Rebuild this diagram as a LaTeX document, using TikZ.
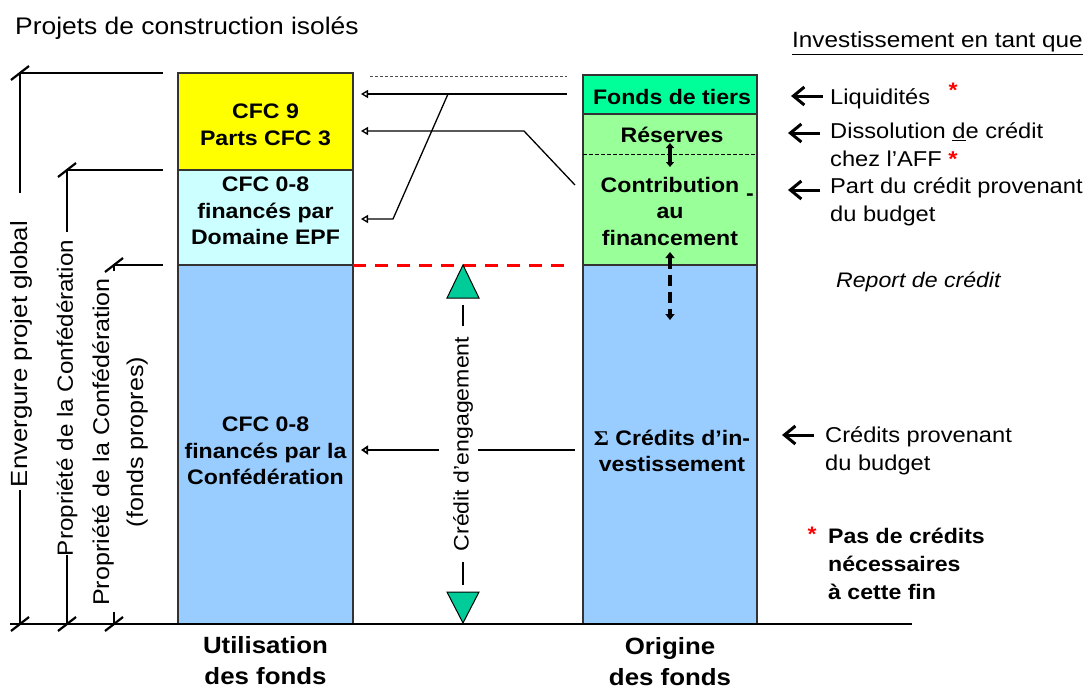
\documentclass[tikz,border=0pt]{standalone}
\usepackage{fontspec}
\setmainfont{Liberation Sans}[FakeStretch=1.1]
\newfontfamily\sigmafont{Liberation Serif}[FakeStretch=1.1]
\usetikzlibrary{arrows.meta}
\definecolor{cyel}{RGB}{255,255,0}
\definecolor{ccyan}{RGB}{204,255,255}
\definecolor{cblue}{RGB}{153,204,255}
\definecolor{ctiers}{RGB}{0,255,153}
\definecolor{cgreen}{RGB}{153,255,153}
\definecolor{ctri}{RGB}{0,204,153}
\definecolor{cred}{RGB}{255,0,0}
\begin{document}
\begin{tikzpicture}[x=1pt,y=-1pt,
  colbox/.style={draw=black!80, line width=1.3pt, inner sep=0pt, minimum width=175pt},
  boxtext/.style={inner sep=0pt, align=center, font=\fontsize{21}{26.5}\selectfont\bfseries},
  plain/.style={inner sep=0pt, align=left, anchor=west, font=\fontsize{21.5}{28}\selectfont},
  boldlab/.style={inner sep=0pt, align=left, anchor=west, font=\fontsize{21}{28}\selectfont\bfseries},
  bottomlab/.style={inner sep=0pt, align=center, font=\fontsize{23.5}{31}\selectfont\bfseries},
  dimline/.style={line width=2.2pt},
  tick/.style={line width=2.2pt},
  thinarrow/.style={line width=1.3pt, -{Triangle[open,length=7pt,width=8pt]}},
  bigarrow/.style={line width=3pt, -{Straight Barb[length=11pt,width=18pt]}},
  rotlab/.style={inner sep=0pt, rotate=90, align=center},
  redstar/.style={inner sep=0pt, text=cred, font=\fontsize{21}{21}\selectfont\bfseries}
]
\useasboundingbox (0,0) rectangle (1089,691);

% title
\node[plain, font=\fontsize{24}{28}\selectfont] (title) at (15,28) {Projets de construction isolés};

% left column
\node[colbox, fill=cyel, minimum height=97pt] (yel) at (265.5,121.5) {};
\node[colbox, fill=ccyan, minimum height=95pt] (cyan) at (265.5,217.5) {};
\node[colbox, fill=cblue, minimum height=359pt] (blueL) at (265.5,444.5) {};
\node[boxtext] (tyel) at (265.5,125) {CFC 9\\Parts CFC 3};
\node[boxtext] (tcyan) at (265.5,211) {CFC 0-8\\financés par\\Domaine EPF};
\node[boxtext] (tblueL) at (265.5,451) {CFC 0-8\\financés par la\\Confédération};

% right column
\node[colbox, fill=ctiers, minimum width=174pt, minimum height=39pt] (tiers) at (670,94.5) {};
\node[colbox, fill=cgreen, minimum width=174pt, minimum height=151pt] (resv) at (670,189.5) {};
\node[colbox, fill=cblue, minimum width=174pt, minimum height=359pt] (blueR) at (670,444.5) {};
\coordinate (dl) at (583,154);
\coordinate (dr) at (757,154);
\draw[line width=1pt, dash pattern=on 4pt off 2pt] (dl) -- (dr);
\node[boxtext] (ttiers) at (672,97) {Fonds de tiers};
\node[boxtext] (tresv) at (672,135) {Réserves};
\node[boxtext] (tcontr) at (670,211) {Contribution\\au\\financement};
\node[boxtext] (dash) at (750,197) {-};
\node[boxtext] (tblueR) at (672,451) {{\sigmafont\bfseries Σ} Crédits d’in-\\vestissement};

% double arrows inside right column
\coordinate (da1) at (670,143);
\coordinate (da2) at (670,167);
\draw[line width=3.2pt, {Triangle[length=5pt,width=8pt]}-{Triangle[length=5pt,width=8pt]}] (da1) -- (da2);
\coordinate (db1) at (670,252);
\coordinate (db2) at (670,320);
\draw[line width=3.4pt, dash pattern=on 11pt off 6pt, {Triangle[length=6pt,width=9pt]}-{Triangle[length=6pt,width=9pt]}] (db1) -- (db2);

% dashed lines between columns
\coordinate (g1) at (370,76);
\coordinate (g2) at (567,76);
\draw[line width=0.8pt, black!70, dash pattern=on 3pt off 2pt] (g1) -- (g2);
\coordinate (r1) at (353,265);
\coordinate (r2) at (567,265);
\draw[line width=3pt, cred, dash pattern=on 13pt off 9pt] (r1) -- (r2);

% connectors
\coordinate (a1s) at (567,94);
\coordinate (a1e) at (361,94);
\draw[thinarrow] (a1s) -- (a1e);
\coordinate (a2s) at (575,185);
\coordinate (a2k) at (524,131);
\coordinate (a2e) at (361,131);
\draw[thinarrow] (a2s) -- (a2k) -- (a2e);
\coordinate (a3s) at (448,94);
\coordinate (a3k) at (393,219);
\coordinate (a3e) at (361,219);
\draw[thinarrow] (a3s) -- (a3k) -- (a3e);

% credit d'engagement
\coordinate (tu) at (463,265);
\coordinate (td) at (463,623);
\filldraw[fill=ctri, draw=black, line width=1pt] (tu) -- (479,298) -- (447,298) -- cycle;
\filldraw[fill=ctri, draw=black, line width=1pt] (td) -- (479,592) -- (447,592) -- cycle;
\node[rotlab, font=\fontsize{21}{28}\selectfont] (ce) at (463,444) {Crédit d’engagement};
\coordinate (ce1) at (463,305);
\coordinate (ce2) at (463,326);
\coordinate (ce3) at (463,562);
\coordinate (ce4) at (463,585);
\draw[line width=1.6pt] (ce1) -- (ce2);
\draw[line width=1.6pt] (ce3) -- (ce4);
\coordinate (m1) at (575,450);
\coordinate (m2) at (478,450);
\coordinate (m3) at (439,450);
\coordinate (m4) at (361,450);
\draw[line width=2.6pt] (m1) -- (m2);
\draw[line width=2.6pt, -{Triangle[open,length=7pt,width=9pt]}] (m3) -- (m4);

% baseline
\coordinate (b0) at (10,624);
\coordinate (b1) at (912,624);
\draw[line width=2.5pt] (b0) -- (b1);

% left dimensions
\coordinate (v1t) at (20,73);
\coordinate (v1b) at (20,624);
\coordinate (h1) at (163,73);
\coordinate (v2t) at (67,170);
\coordinate (v2b) at (67,624);
\coordinate (h2) at (163,170);
\coordinate (v3t) at (114,265);
\coordinate (v3b) at (114,624);
\coordinate (h3) at (163,265);
\draw[dimline] (h1) -- (v1t) -- (20,193);
\draw[dimline] (20,490) -- (v1b);
\draw[dimline] (h2) -- (v2t) -- (67,232);
\draw[dimline] (67,555) -- (v2b);
\draw[dimline] (h3) -- (v3t) -- (114,271);
\draw[dimline] (114,612) -- (v3b);
\foreach \p in {v1t,v1b,v2t,v2b,v3t,v3b}{
  \draw[tick] ([xshift=-9pt,yshift=-7pt]\p) -- ([xshift=9pt,yshift=7pt]\p);
}
\node[rotlab, font=\fontsize{23.4}{30}\selectfont] (env) at (21,354) {Envergure projet global};
\node[rotlab, font=\fontsize{22}{30}\selectfont] (prop1) at (67,398) {Propriété de la Confédération};
\node[rotlab, font=\fontsize{22.8}{34}\selectfont] (prop2) at (120,442) {Propriété de la Confédération\\(fonds propres)};

% bottom labels
\node[bottomlab] (util) at (265.5,661) {Utilisation\\des fonds};
\node[bottomlab] (orig) at (670,662) {Origine\\des fonds};

% right labels
\node[plain, font=\fontsize{22.1}{28}\selectfont] (inv) at (792,43) {\underline{Investissement en tant que}};
\node[plain] (liq) at (830,99) {Liquidités};
\node[redstar] (s1) at (953,90) {*};
\node[plain] (diss) at (830,145) {Dissolution \underline{d}e crédit\\chez l’AFF {\color{cred}\bfseries *}};
\node[plain] (part) at (830,202) {Part du crédit provenant\\du budget};
\node[plain, font=\fontsize{21}{28}\selectfont\itshape] (rep) at (836,282) {Report de crédit};
\node[plain] (cred) at (825,451) {Crédits provenant\\du budget};
\node[boldlab] (pas) at (828,564) {Pas de crédits\\nécessaires\\à cette fin};
\node[redstar] (s3) at (812,534) {*};

\coordinate (l1s) at (823,96);
\coordinate (l1e) at (791,96);
\draw[bigarrow] (l1s) -- (l1e);
\coordinate (l2s) at (820,133);
\coordinate (l2e) at (788,133);
\draw[bigarrow] (l2s) -- (l2e);
\coordinate (l3s) at (820,190);
\coordinate (l3e) at (788,190);
\draw[bigarrow] (l3s) -- (l3e);
\coordinate (l4s) at (814,435);
\coordinate (l4e) at (782,435);
\draw[bigarrow] (l4s) -- (l4e);
\end{tikzpicture}
\end{document}
